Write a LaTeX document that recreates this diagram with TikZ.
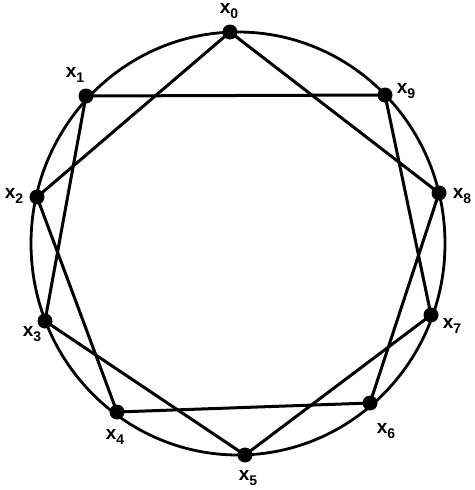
\documentclass[tikz,border=0pt]{standalone}
\usepackage{fontspec}
\setmainfont{Liberation Sans}
\begin{document}
\begin{tikzpicture}[x=1pt,y=-1pt,
  vtx/.style={circle,fill=black,inner sep=0pt,minimum size=15pt},
  lbl/.style={font=\fontsize{19}{19}\selectfont\bfseries,inner sep=0pt},
  edge/.style={line width=3pt},
  ring/.style={line width=2.8pt}]
\useasboundingbox (0,0) rectangle (474,490);
\newcommand{\xlab}[1]{x\raisebox{-0.45ex}{\fontsize{14}{14}\selectfont #1}}
\draw[ring] (238,243.5) ellipse [x radius=207, y radius=211.5];
\node[vtx] (x0) at (230,32) {};
\node[vtx] (x1) at (86,96) {};
\node[vtx] (x2) at (37,197) {};
\node[vtx] (x3) at (45,321) {};
\node[vtx] (x4) at (117,412) {};
\node[vtx] (x5) at (245,455) {};
\node[vtx] (x6) at (370,403) {};
\node[vtx] (x7) at (431,315) {};
\node[vtx] (x8) at (439,193) {};
\node[vtx] (x9) at (385,95) {};
\draw[edge] (x0.center) -- (x2.center);
\draw[edge] (x0.center) -- (x8.center);
\draw[edge] (x1.center) -- (x9.center);
\draw[edge] (x1.center) -- (x3.center);
\draw[edge] (x2.center) -- (x4.center);
\draw[edge] (x3.center) -- (x5.center);
\draw[edge] (x4.center) -- (x6.center);
\draw[edge] (x5.center) -- (x7.center);
\draw[edge] (x6.center) -- (x8.center);
\draw[edge] (x7.center) -- (x9.center);
\node[lbl] (l0) at (229,11) {\xlab{0}};
\node[lbl] (l1) at (75,75) {\xlab{1}};
\node[lbl] (l2) at (14,196) {\xlab{2}};
\node[lbl] (l3) at (32,334) {\xlab{3}};
\node[lbl] (l4) at (115,437) {\xlab{4}};
\node[lbl] (l5) at (248,478) {\xlab{5}};
\node[lbl] (l6) at (386,431) {\xlab{6}};
\node[lbl] (l7) at (452,326) {\xlab{7}};
\node[lbl] (l8) at (462,196) {\xlab{8}};
\node[lbl] (l9) at (406,91) {\xlab{9}};
\end{tikzpicture}
\end{document}
